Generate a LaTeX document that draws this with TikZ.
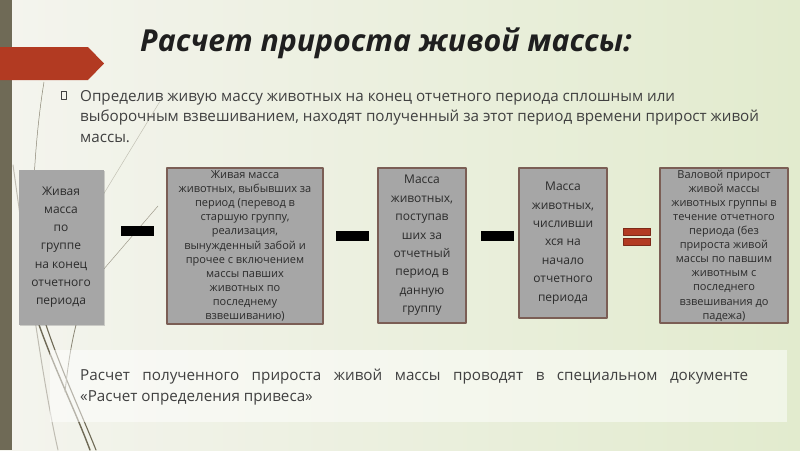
\documentclass[tikz,border=0pt]{standalone}
\usepackage{fontspec}
\setmainfont{Open Sans}
\usetikzlibrary{shadows}
\definecolor{stripolive}{HTML}{6F6A56}
\definecolor{arrowred}{HTML}{B23A22}
\definecolor{boxgray}{HTML}{A6A6A6}
\definecolor{boxedge}{HTML}{7B5E55}
\definecolor{boxtext}{HTML}{2B2B2B}
\definecolor{bodytext}{HTML}{404040}
\definecolor{bgleft}{HTML}{F4F4EE}
\definecolor{bgright}{HTML}{E2EBCE}
\definecolor{swirl}{HTML}{8A8574}
\begin{document}
\begin{tikzpicture}[x=1pt,y=-1pt,line cap=round,line join=round]
  \tikzset{
    massbox/.style={rectangle,fill=boxgray,inner sep=0pt,align=center,text=boxtext},
    framed/.style={massbox,draw=boxedge,line width=1.1pt},
    minusbar/.style={rectangle,fill=black,inner sep=0pt,minimum width=33pt,minimum height=10pt},
    eqbar/.style={rectangle,fill=arrowred,draw=arrowred!70!black,line width=0.4pt,inner sep=0pt,minimum width=27pt,minimum height=7pt},
    swirlline/.style={draw=swirl,line width=0.5pt},
  }
  \useasboundingbox (0,0) rectangle (800,450);
  \shade[left color=bgleft,right color=bgright] (0,0) rectangle (800,450);
  \fill[stripolive] (0,0) rectangle (12,450);
  % decoration lines
  \draw[swirlline] (44,82) .. controls (36,130) and (31,200) .. (33,262);
  \draw[swirlline,opacity=0.45] (162,98) -- (103,195);
  \draw[swirlline,opacity=0.8] (158,206) -- (103,270);
  \draw[swirl!55,line width=1pt] (13,165) .. controls (25,250) and (42,380) .. (58,450);
  \draw[stripolive,line width=1.4pt] (38,322) .. controls (55,370) and (75,410) .. (90,450);
  \draw[stripolive,line width=1.1pt] (45,322) .. controls (61,370) and (80,410) .. (96,450);
  \draw[swirl,line width=0.8pt] (76,325) .. controls (71,345) and (68,365) .. (65,392);
  \fill[arrowred] (0,47) -- (88,47) -- (104,63.5) -- (88,80) -- (0,80) -- cycle;
  % title and intro
  \node[font=\fontsize{30.3}{34}\selectfont\bfseries\itshape,text=black!88] (title) at (386,43) {Расчет прироста живой массы:};
  \node[draw=bodytext,line width=0.5pt,minimum width=5pt,minimum height=8pt,inner sep=0pt] (bullet) at (64,95) {};
  \node[anchor=base west,align=left,inner sep=0pt,text=bodytext,font=\fontsize{15.2}{20.5}\selectfont] (intro) at (80,142)
    {Определив живую массу животных на конец отчетного периода сплошным или\\
     выборочным взвешиванием, находят полученный за этот период времени прирост живой\\
     массы.};
  % boxes
  \node[massbox,drop shadow={shadow xshift=1.5pt,shadow yshift=-1.5pt,opacity=0.35},minimum width=85pt,minimum height=155pt,
    font=\fontsize{12}{18.2}\selectfont] (alive) at (61,247)
    {Живая\\масса\\по\\группе\\на конец\\отчетного\\периода};
  \node[framed,minimum width=156pt,minimum height=156pt,font=\fontsize{11}{14.1}\selectfont] (gone) at (245,246)
    {Живая масса\\животных, выбывших за\\период (перевод в\\старшую группу,\\реализация,\\вынужденный забой и\\прочее с включением\\массы павших\\животных по\\последнему\\взвешиванию)};
  \node[framed,minimum width=88pt,minimum height=155pt,font=\fontsize{12}{18.4}\selectfont] (came) at (422,245.5)
    {Масса\\животных,\\поступав\\ших за\\отчетный\\период в\\данную\\группу};
  \node[framed,minimum width=88pt,minimum height=150pt,font=\fontsize{12}{18.4}\selectfont] (start) at (563,243)
    {Масса\\животных,\\числивши\\хся на\\начало\\отчетного\\периода};
  \node[framed,minimum width=128pt,minimum height=155pt,font=\fontsize{11}{14.1}\selectfont] (gain) at (724,245.5)
    {Валовой прирост\\живой массы\\животных группы в\\течение отчетного\\периода (без\\прироста живой\\массы по павшим\\животным с\\последнего\\взвешивания до\\падежа)};
  % signs
  \node[minusbar] (m1) at (137,231) {};
  \node[minusbar] (m2) at (352,236) {};
  \node[minusbar] (m3) at (497,236) {};
  \node[eqbar] (eqa) at (637,231.5) {};
  \node[eqbar] (eqb) at (637,241.5) {};
  % bottom note
  \fill[white,opacity=0.5] (50,350) rectangle (787,422);
  \node[anchor=base west,align=left,inner sep=0pt,text=bodytext,font=\fontsize{15.2}{20.5}\selectfont] (note) at (80,401)
    {\makebox[668pt][s]{Расчет полученного прироста живой массы проводят в специальном документе}\\
     «Расчет определения привеса»};
\end{tikzpicture}
\end{document}
